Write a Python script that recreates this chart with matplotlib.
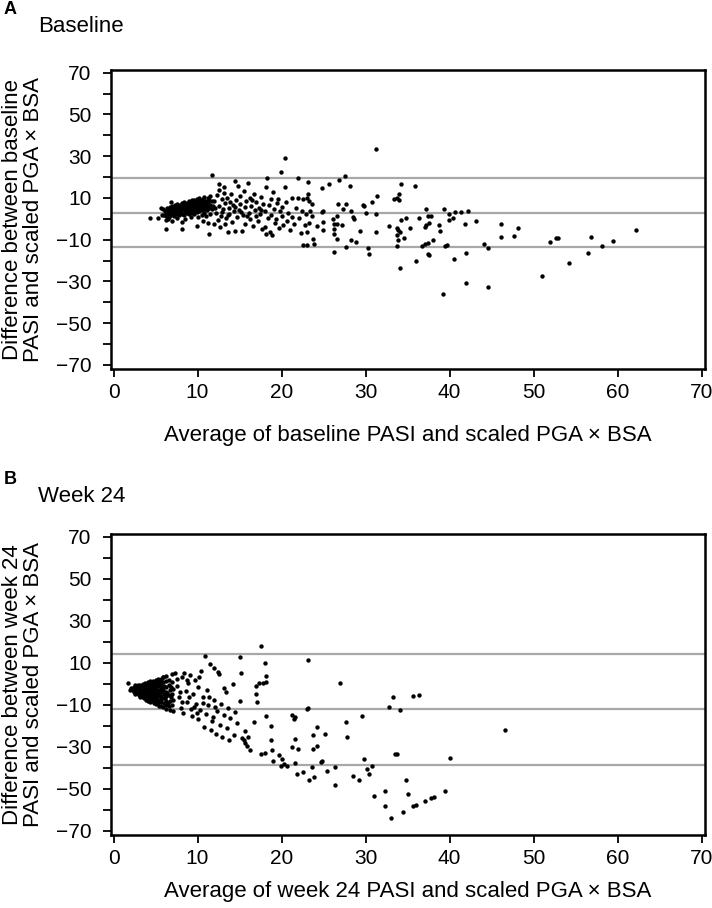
import numpy as np
import matplotlib
matplotlib.use("Agg")
from matplotlib import pyplot as plt

plt.rcParams['font.family'] = ['Liberation Sans', 'DejaVu Sans']

# ---- Panel A: baseline (average, difference) ----
base_cluster = [
    (6.0, 2.0), (6.1, 3.5), (5.9, 4.5), (6.3, 1.5), (6.2, 3.0), (6.4, 5.0),
    (6.6, 2.5), (6.5, 4.0), (6.7, 5.5), (6.6, 1.0), (6.9, 2.0), (7.0, 3.2),
    (6.8, 4.8), (7.0, 6.0), (7.2, 1.5), (7.3, 2.8), (7.1, 3.9), (7.2, 5.2),
    (7.3, 6.5), (7.5, 2.2), (7.4, 3.5), (7.6, 4.5), (7.5, 6.0), (7.6, 7.0),
    (7.8, 1.8), (7.9, 3.0), (7.7, 4.2), (7.8, 5.5), (7.9, 6.8), (8.1, 2.5),
    (8.0, 3.8), (8.2, 5.0), (8.1, 6.2), (8.2, 7.5), (8.4, 2.0), (8.5, 3.2),
    (8.3, 4.5), (8.4, 5.8), (8.5, 7.0), (8.4, 8.0), (8.7, 2.8), (8.8, 4.0),
    (8.6, 5.2), (8.7, 6.5), (8.8, 7.6), (9.0, 2.2), (9.1, 3.5), (8.9, 4.8),
    (9.0, 6.0), (9.1, 7.2), (9.0, 8.5), (9.3, 3.0), (9.4, 4.2), (9.2, 5.5),
    (9.3, 6.8), (9.4, 8.0), (9.3, 9.0), (9.6, 2.5), (9.7, 3.8), (9.5, 5.0),
    (9.6, 6.3), (9.7, 7.5), (9.6, 8.8), (9.9, 3.2), (10.0, 4.5), (9.8, 5.8),
    (9.9, 7.0), (10.0, 8.2), (9.9, 9.5), (10.2, 3.5), (10.3, 5.0), (10.1, 6.2),
    (10.2, 7.5), (10.3, 8.8), (10.2, 10.0), (10.5, 4.0), (10.6, 5.5), (10.4, 6.8),
    (10.5, 8.0), (10.6, 9.5), (10.8, 3.0), (10.9, 4.8), (10.7, 6.0), (10.8, 7.2),
    (10.9, 8.5), (10.8, 10.5), (11.1, 4.2), (11.2, 5.5), (11.0, 7.0), (11.1, 8.2),
    (11.2, 9.8), (11.4, 5.0), (11.5, 6.5), (11.3, 7.8), (11.4, 9.0), (11.5, 11.0),
    (11.7, 4.5), (11.8, 6.0), (11.7, 8.5), (6.7, 3.3), (7.4, 4.9), (8.6, 3.6),
    (9.8, 4.1), (10.4, 7.1), (11.0, 5.9), (8.3, 6.6), (9.5, 7.9), (10.7, 9.1),
    (6.4, 2.2), (7.1, 2.4), (7.7, 3.1), (8.0, 4.6), (8.9, 5.7), (9.2, 6.4),
    (10.1, 5.4), (10.6, 6.6), (11.3, 6.9), (7.5, 5.3), (8.6, 6.0), (9.7, 8.2),
]
base_spread = [
    (4.4, 0.5), (5.3, 0.5), (5.7, 5.2), (6.2, -4.7), (6.2, -0.7), (6.9, 8.1),
    (8.2, -4.7), (8.2, -1.5), (9.9, -3.4), (11.7, 20.9), (11.4, -7.3), (12.6, 16.9),
    (5.8, 2.0), (6.5, 0.0), (7.0, -1.0), (7.5, 0.5), (8.5, 0.0), (9.2, 1.0),
    (10.0, 1.0), (10.5, 2.0), (11.0, 1.5), (11.5, 2.5), (11.3, -2.0), (10.7, -1.0),
    (12.0, -2.5), (12.4, -0.5),
    (12.0, 8.5), (12.2, 3.0), (12.3, 11.5), (12.5, 6.0), (12.6, 14.0), (12.7, -4.1),
    (12.8, 1.5), (12.9, 9.5), (13.0, 4.5), (13.1, 12.5), (13.2, 15.0), (13.3, 7.5),
    (13.4, 0.5), (13.5, 10.0), (13.6, -6.5), (13.7, 5.0), (13.8, 2.5), (13.9, 8.0),
    (14.0, 12.0), (14.1, -1.5), (14.2, 6.5), (14.3, 3.5), (14.4, 18.2), (14.5, -6.0),
    (14.6, 9.0), (14.7, 1.0), (14.8, 15.8), (14.9, 4.0), (15.0, 11.0), (15.1, 7.0),
    (15.3, -6.0), (15.4, 2.0), (15.5, 13.5), (15.6, 5.5), (15.7, -2.5), (15.8, 8.5),
    (16.0, 17.2), (16.1, 3.0), (16.2, 10.0), (16.3, 0.0), (16.4, 6.0), (16.6, -3.5),
    (16.7, 12.0), (16.8, 4.0), (16.9, 1.5), (17.0, 8.0), (17.2, -1.0), (17.3, 5.0),
    (17.4, 2.5), (17.5, 10.5), (17.7, -5.0), (17.8, 7.0), (18.0, 3.5), (18.1, 15.4),
    (18.2, -7.5), (18.3, 19.4), (18.4, 0.5), (18.5, 6.5), (18.6, -6.5), (18.7, 9.5),
    (18.8, 2.0), (18.9, -8.0), (19.0, 12.9), (19.1, 4.5), (19.2, -2.0), (19.3, 0.0),
    (19.5, 7.5), (19.6, 9.7), (19.7, -4.5), (19.9, 22.5), (20.0, 1.5), (20.1, 5.5),
    (20.2, -3.0), (20.4, 29.0), (20.4, 15.1), (20.5, 8.0), (20.6, -1.0), (20.8, 3.0),
    (21.0, -5.5), (21.2, 10.0), (21.3, 1.0), (21.5, -2.5), (21.7, 5.0), (21.9, 19.5),
    (22.0, 10.0), (22.1, 0.5), (22.3, -7.0), (22.4, 3.5), (22.5, -12.5), (22.6, 9.5),
    (22.8, -3.0), (12.1, 5.2), (12.9, 3.3), (13.6, 1.8), (14.4, 5.6), (15.2, 3.1),
    (16.5, 8.9), (17.6, 4.2), (19.8, 3.9), (13.3, -2.6), (15.9, 1.2), (18.0, -3.8),
]
base_high = [
    (31.2, 33.4), (27.5, 20.5), (26.8, 18.7), (25.7, 16.7), (24.8, 14.8), (23.2, 17.5),
    (28.1, 15.8), (34.2, 16.5), (35.9, 15.6), (34.0, 11.8), (33.8, 9.9), (33.4, 9.3),
    (34.0, 9.0), (31.4, 11.0), (30.8, 8.0), (29.7, 6.5), (29.8, 6.2), (26.7, 7.3),
    (27.7, 7.0), (23.6, 7.3), (23.2, 12.0), (23.0, 9.8), (23.3, 8.5), (24.8, 3.3),
    (24.9, 3.7), (23.4, 3.5), (22.9, 2.1), (23.6, 1.1), (23.3, -1.8), (27.3, 4.6),
    (26.6, 1.3), (26.1, -0.3), (26.3, -2.5), (26.6, -2.5), (27.2, -2.8), (26.2, -4.9),
    (26.2, -7.2), (26.6, -9.9), (26.3, -16.1), (27.7, -13.5), (28.3, 3.6), (28.5, 0.9),
    (28.6, -0.3), (28.3, -10.4), (28.9, -11.2), (29.3, -5.8), (24.9, -1.6), (24.9, -5.5),
    (24.2, -3.3), (23.8, -9.9), (23.9, -12.0), (23.0, -6.5), (23.0, -12.5), (30.1, 2.7),
    (31.2, 2.2), (31.3, -6.4), (30.3, -14.0), (30.4, -16.7), (32.8, -3.3), (33.7, -4.5),
    (33.9, -5.3), (34.1, -6.4), (33.7, -7.7), (33.9, -10.4), (33.7, -12.9), (34.2, -0.8),
    (34.8, 0.3), (34.6, -9.0), (35.3, -4.2), (34.1, -23.5), (36.0, -20.1), (36.3, 0.6),
    (37.2, 4.9), (37.4, 1.1), (37.8, 1.1), (37.5, -2.2), (37.2, -3.0), (37.1, -4.1),
    (36.7, -12.9), (37.1, -12.0), (37.4, -11.6), (38.0, -10.1), (37.5, -17.4), (37.4, -16.8),
    (38.7, -3.1), (38.9, -6.1), (39.3, 4.9), (39.9, 2.5), (39.9, -0.6), (40.4, 0.5),
    (40.6, 3.3), (41.4, 3.3), (42.2, 3.6), (41.8, -2.5), (43.2, -0.9), (39.5, -12.9),
    (39.7, -12.7), (40.5, -19.4), (42.0, -16.4), (39.2, -36.2), (42.0, -30.7), (44.6, -32.6),
    (44.1, -12.1), (44.6, -14.0), (46.1, -2.5), (46.1, -8.5), (47.7, -8.2), (48.1, -4.6),
    (51.0, -27.2), (51.9, -11.2), (52.7, -9.3), (52.9, -9.2), (54.2, -21.1), (56.5, -16.4),
    (56.8, -8.5), (58.2, -13.2), (59.5, -10.5), (62.2, -5.2),
]
base_limits = [19.3, 3.0, -13.3]

# ---- Panel B: week 24 (average, difference) ----
wk24_cluster = [
    (1.7, 0.6), (2.6, -0.5), (2.0, -3.0), (2.1, -2.2), (2.3, -1.8), (2.3, -3.2),
    (2.4, -4.0), (2.6, -1.2), (2.6, -2.5), (2.7, -3.8), (2.6, -4.8), (2.9, -0.8),
    (2.9, -2.0), (3.0, -3.3), (2.9, -4.6), (3.0, -5.5), (3.2, -0.5), (3.2, -1.7),
    (3.3, -3.0), (3.2, -4.2), (3.3, -5.5), (3.2, -6.3), (3.5, 0.0), (3.5, -1.3),
    (3.6, -2.6), (3.5, -3.9), (3.6, -5.2), (3.5, -6.5), (3.6, -7.0), (3.8, 0.5),
    (3.8, -1.0), (3.9, -2.3), (3.8, -3.6), (3.9, -5.0), (3.8, -6.2), (3.9, -7.5),
    (4.1, 0.8), (4.1, -0.5), (4.2, -2.0), (4.1, -3.3), (4.2, -4.7), (4.1, -6.0),
    (4.2, -7.3), (4.1, -8.2), (4.4, 1.2), (4.4, -0.2), (4.5, -1.6), (4.4, -3.0),
    (4.5, -4.4), (4.4, -5.8), (4.5, -7.0), (4.4, -8.5), (4.7, 1.5), (4.7, 0.0),
    (4.8, -1.4), (4.7, -2.8), (4.8, -4.2), (4.7, -5.6), (4.8, -7.0), (4.7, -8.4),
    (4.8, -9.3), (5.0, 1.8), (5.0, 0.3), (5.1, -1.0), (5.0, -2.5), (5.1, -4.0),
    (5.0, -5.4), (5.1, -6.8), (5.0, -8.2), (5.1, -9.8), (5.3, 2.2), (5.3, 0.5),
    (5.4, -1.2), (5.3, -2.8), (5.4, -4.4), (5.3, -6.0), (5.4, -7.5), (5.3, -9.0),
    (5.4, -10.4), (5.6, 2.5), (5.6, 0.8), (5.7, -0.8), (5.6, -2.4), (5.7, -4.0),
    (5.6, -5.6), (5.7, -7.2), (5.6, -8.8), (5.7, -10.5), (5.9, 3.0), (5.9, 1.0),
    (6.0, -1.0), (5.9, -3.0), (6.0, -5.0), (5.9, -7.0), (6.0, -9.0), (5.9, -11.0),
    (6.2, 3.5), (6.2, 1.2), (6.3, -1.5), (6.2, -3.8), (6.3, -6.0), (6.2, -8.2),
    (6.3, -10.3), (6.2, -12.0), (6.6, 2.0), (6.6, -0.5), (6.7, -3.0), (6.6, -5.5),
    (6.7, -8.0), (6.6, -10.5), (6.7, -12.5), (7.0, 4.5), (7.0, 1.0), (7.1, -2.5),
    (7.0, -5.0), (7.1, -7.5), (7.0, -10.0), (7.1, -13.0), (5.4, 1.4), (5.9, 3.0),
    (2.8, -1.4), (3.1, -2.4), (3.4, -4.6), (3.7, -1.8), (4.0, -4.0), (4.3, -6.6),
    (4.6, -3.6), (4.9, -6.2), (5.2, -3.4), (5.5, -8.2), (5.8, -2.0), (6.1, -6.8),
    (6.4, -4.6), (6.5, -9.3), (6.8, -1.6), (6.9, -6.4), (2.5, -3.1), (3.3, -3.8),
]
wk24_spread = [
    (7.3, 5.0), (7.6, -1.0), (7.8, -6.5), (8.0, -11.5), (8.1, 3.0), (8.3, -14.0),
    (8.4, 5.3), (8.6, -3.5), (8.8, -8.5), (8.9, 0.5), (9.1, 4.0), (9.2, -12.0),
    (9.4, -15.5), (9.5, -5.0), (9.7, 2.0), (9.8, -9.5), (10.0, -1.5), (10.1, -17.0),
    (10.3, -12.5), (10.4, 6.0), (10.6, -6.5), (10.8, -20.5), (10.9, 13.1), (11.0, -14.5),
    (11.1, -3.0), (11.3, -10.0), (11.5, 9.6), (11.6, -22.0), (11.7, -17.5), (11.9, 7.5),
    (12.0, -7.5), (12.2, -24.0), (12.3, -13.0), (12.4, 5.5), (12.6, 4.6), (12.7, -19.5),
    (12.8, -9.5), (12.9, -25.5), (13.1, -15.0), (13.2, -2.0), (13.4, -3.7), (13.5, -21.0),
    (13.6, -11.5), (13.8, -27.0), (13.9, -16.5), (14.2, 0.1), (14.3, -24.5), (14.5, -13.5),
    (14.7, -18.5), (15.0, -8.0), (15.1, 12.8), (15.2, 4.9), (15.3, -26.0), (15.5, -27.0),
    (15.6, -28.0), (15.7, -22.5), (15.9, -29.5), (16.0, -25.5), (16.3, -31.5), (16.7, -18.1),
    (16.9, -1.0), (17.0, -4.9), (17.1, -8.9), (17.3, 0.5), (17.6, 18.0), (17.6, -33.5),
    (17.8, 0.5), (18.0, 10.1), (18.1, 3.8), (18.1, 1.0), (18.2, -15.3), (18.0, -33.0),
    (18.8, -20.0), (18.8, -27.0), (18.9, -31.5), (19.0, -37.0), (19.7, -34.0), (20.0, -36.0),
    (20.3, -38.0), (19.9, -39.0), (20.6, -39.0), (21.2, -29.9), (21.3, -15.0), (21.5, -17.0),
    (21.6, -16.0), (21.6, -26.2), (21.6, -37.9), (21.8, -42.9), (22.0, -31.2), (22.5, -41.8),
    (7.5, 2.2), (7.9, -3.8), (8.2, -8.8), (8.7, 1.8), (9.0, -6.2), (9.6, -11.2),
    (10.2, 3.4), (10.7, -9.0), (11.4, -6.4), (12.1, -11.0), (9.9, -13.8), (11.8, -15.6),
]
wk24_far = [
    (23.2, 11.5), (27.0, 0.5), (23.0, -11.8), (27.7, -18.2), (27.8, -25.4), (29.6, -15.5),
    (24.2, -20.8), (23.8, -24.6), (25.2, -23.7), (24.2, -29.6), (23.7, -31.2), (24.7, -37.4),
    (24.8, -36.8), (23.6, -39.5), (23.3, -45.9), (23.9, -44.6), (25.4, -41.6), (26.4, -39.5),
    (26.4, -48.3), (28.5, -43.8), (29.2, -45.6), (29.8, -35.7), (30.2, -40.6), (30.4, -42.9),
    (30.8, -39.2), (31.0, -53.6), (32.3, -50.9), (32.3, -58.1), (33.0, -63.8), (34.4, -61.0),
    (32.8, -10.9), (33.3, -6.1), (34.1, -12.5), (33.7, -33.6), (34.8, -45.9), (35.0, -52.7),
    (35.6, -5.8), (36.3, -5.3), (35.7, -58.4), (36.0, -57.9), (37.1, -55.7), (37.8, -54.4),
    (38.1, -53.8), (39.5, -51.0), (40.0, -35.2), (46.6, -22.2), (33.5, -33.2), (23.1, -11.6),
]
wk24_limits = [14.4, -12.2, -38.6]

# letter, title, points, limit lines, y label, x label,
# axes top/bottom px, x label px, letter px, title px
panels = [
    ("A", "Baseline", base_cluster + base_spread + base_high, base_limits,
     "Difference between baseline\nPASI and scaled PGA \u00d7 BSA",
     "Average of baseline PASI and scaled PGA \u00d7 BSA", 70, 369, 435, 9, 26),
    ("B", "Week 24", wk24_cluster + wk24_spread + wk24_far, wk24_limits,
     "Difference between week 24\nPASI and scaled PGA \u00d7 BSA",
     "Average of week 24 PASI and scaled PGA \u00d7 BSA", 534, 835, 891, 479, 497),
]

W, H = 712, 908
fig = plt.figure(figsize=(W / 100, H / 100), dpi=100)

for letter, title, pts, limits, ylab, xlab, top, bot, xlab_y, let_y, tit_y in panels:
    ax = fig.add_axes([111 / W, 1 - bot / H, 594 / W, (bot - top) / H])
    pts = np.array(pts)
    for v in limits:
        ax.axhline(v, color='#a8a8a8', linewidth=1.6, zorder=1)
    ax.scatter(pts[:, 0], pts[:, 1], s=10, color='black', linewidths=0, zorder=2)
    ax.set_xlim(-0.3, 70.4)
    ax.set_ylim(-72, 71.3)
    ax.set_xticks(range(0, 71, 10))
    yt = list(range(-70, 71, 10))
    ax.set_yticks(yt)
    ax.set_yticklabels([("\u2212%d" % -t if t < 0 else "%d" % t) if t % 20 != 0 else "" for t in yt])
    ax.tick_params(axis='both', direction='out', length=6, width=1.3, labelsize=15)
    ax.tick_params(axis='x', pad=4)
    ax.tick_params(axis='y', pad=8)
    for s in ax.spines.values():
        s.set_linewidth(1.8)
    mid = (top + bot) / 2
    fig.text(23 / W, 1 - mid / H, ylab, rotation=90, fontsize=16, ha='center', va='center',
             multialignment='center', linespacing=1.05)
    fig.text(408 / W, 1 - xlab_y / H, xlab, fontsize=16, ha='center', va='center')
    fig.text(4 / W, 1 - let_y / H, letter, fontsize=13, fontweight='bold', va='center')
    fig.text(38 / W, 1 - tit_y / H, title, fontsize=16, va='center')

fig.savefig("out.png", dpi=100)
